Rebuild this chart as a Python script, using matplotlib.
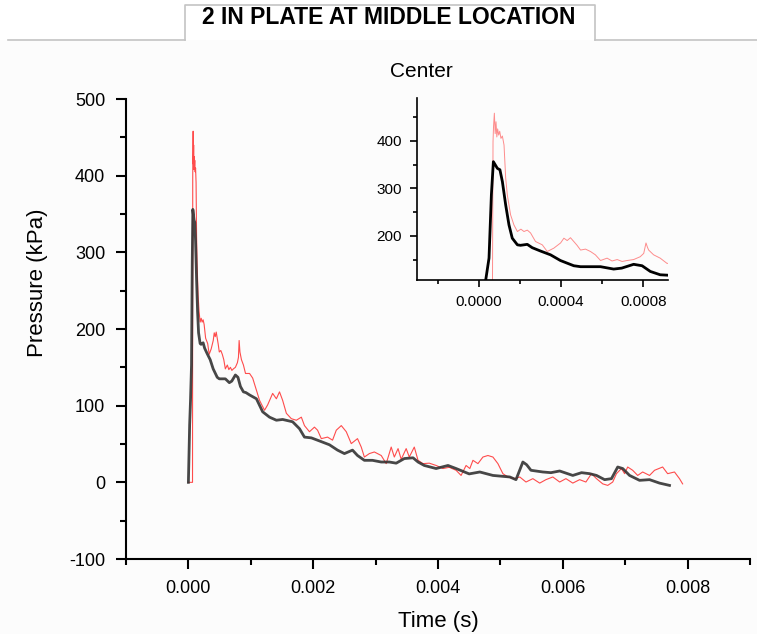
import matplotlib
matplotlib.use("Agg")
import matplotlib.pyplot as plt
from matplotlib.lines import Line2D
from matplotlib.patches import Rectangle
from matplotlib.ticker import MultipleLocator, FixedLocator

plt.rcParams['font.family'] = ['Liberation Sans', 'DejaVu Sans']

# Simulated pressure history (s, kPa)
sim_time = [0.0, 0.00002, 0.000034, 0.00005, 0.0000615, 0.0000712, 0.0000905,
            0.000103, 0.000115, 0.000131, 0.000147, 0.000163, 0.000188, 0.000203,
            0.000236, 0.00026, 0.0003, 0.000349, 0.000397, 0.000462, 0.000495,
            0.000592, 0.000656, 0.000695, 0.000753, 0.000794, 0.000834, 0.000882,
            0.000923, 0.00098, 0.00109, 0.00119, 0.0013, 0.00141, 0.00151, 0.00167,
            0.00178, 0.00186, 0.00197, 0.0021, 0.00226, 0.00239, 0.0025, 0.00263,
            0.00271, 0.00282, 0.00295, 0.00309, 0.00322, 0.00333, 0.00346, 0.0036,
            0.00368, 0.00378, 0.00397, 0.00416, 0.00429, 0.0045, 0.00467, 0.00488,
            0.00515, 0.00525, 0.00536, 0.00542, 0.00549, 0.00568, 0.00581, 0.00595,
            0.00616, 0.0063, 0.00643, 0.00654, 0.00667, 0.00678, 0.00688, 0.00696,
            0.00707, 0.00723, 0.00739, 0.00755, 0.00771]
sim_pressure = [0, 75, 107, 153, 286, 356, 342,
                339, 314, 265, 223, 195, 181, 180,
                182, 175, 168, 160, 148, 137, 135,
                135, 130, 132, 140, 137, 125, 118,
                117, 114, 109, 92, 85, 81, 82, 79,
                70, 59, 58, 54, 49, 42, 37.5, 42,
                35, 28.7, 28.7, 26.5, 26.5, 25, 31, 32,
                26.5, 22, 18, 22, 18, 11, 13.5, 9,
                7, 3.5, 26.5, 23, 15.7, 13.5, 12.6, 14.8,
                9, 12.6, 11.3, 9, 3.5, 4.8, 20, 18,
                9, 2.6, 3.5, -1, -4]

# Measured pressure history (s, kPa)
exp_time = [0.000005, 0.000066, 0.0000695, 0.000072, 0.000076, 0.00008, 0.000084,
            0.000088, 0.000092, 0.000097, 0.000102, 0.000108, 0.000115, 0.000123,
            0.000131, 0.000139, 0.000155, 0.000171, 0.000188, 0.000205, 0.00022,
            0.000236, 0.000252, 0.000276, 0.000309, 0.000333, 0.000365, 0.000398,
            0.000414, 0.00043, 0.000446, 0.000462, 0.000478, 0.000495, 0.000519,
            0.000543, 0.000567, 0.000592, 0.000624, 0.000648, 0.000673, 0.000697,
            0.000721, 0.000753, 0.000785, 0.000802, 0.000813, 0.00082, 0.000826,
            0.00085, 0.000882, 0.000915, 0.00098, 0.00103, 0.00109, 0.00114, 0.00122,
            0.00127, 0.00135, 0.00141, 0.00146, 0.00151, 0.00157, 0.00165, 0.00173,
            0.00181, 0.00186, 0.00194, 0.00202, 0.00207, 0.00213, 0.00223, 0.00231,
            0.00237, 0.00245, 0.00253, 0.00261, 0.00271, 0.00277, 0.00282, 0.0029,
            0.00298, 0.00309, 0.00317, 0.00325, 0.0033, 0.00336, 0.00341, 0.00349,
            0.00354, 0.00362, 0.00368, 0.00376, 0.00386, 0.00397, 0.00408, 0.00418,
            0.00429, 0.00437, 0.00445, 0.00451, 0.00456, 0.00464, 0.00472, 0.0048,
            0.00488, 0.00496, 0.00504, 0.00512, 0.00523, 0.00531, 0.00541, 0.00552,
            0.00563, 0.00573, 0.00584, 0.00595, 0.00605, 0.00616, 0.00627, 0.00637,
            0.00646, 0.00654, 0.00664, 0.00672, 0.0068, 0.00686, 0.00694, 0.00699,
            0.00704, 0.00712, 0.0072, 0.00728, 0.00739, 0.00747, 0.0076, 0.00768,
            0.00779, 0.00787, 0.00792]
exp_pressure = [0, 0, 398, 430, 458, 415, 440,
                408, 425, 412, 420, 405, 410, 391,
                322, 286, 244, 223, 209, 214, 209,
                212, 206, 188, 181, 167, 174, 185,
                195, 190, 196, 188, 180, 170, 172,
                167, 160, 148, 153, 147, 150, 146,
                148, 150, 156, 163, 185, 176, 170,
                160, 153, 142, 142, 136, 120, 107, 94,
                101, 116, 109, 118, 107, 90, 83, 81,
                85, 74, 66, 72, 68, 57, 59, 55,
                68, 74, 66, 50.5, 57, 46, 33, 37.5,
                39.6, 35, 24.4, 46, 33, 44, 30, 44,
                33, 46, 28.7, 24.4, 25, 22, 18, 19.6,
                15.7, 9, 22, 18, 28.7, 24.4, 33, 35,
                33, 24.4, 11.3, 7, 4.8, 7, 0.4, 4.8,
                -1, 3.5, 7, 0.4, 4.8, -1, 3.5, 0.4,
                11.3, 4.8, -2, -4, 0.4, 11.3, 18, 11.3,
                20, 15.7, 9, 13.5, 9, 15.7, 20, 11.3,
                13.5, 4.8, -2]

main_xticks = [0.000, 0.002, 0.004, 0.006, 0.008]
main_yticks = [-100, 0, 100, 200, 300, 400, 500]
inset_xticks = [0.0000, 0.0004, 0.0008]
inset_yticks = [200, 300, 400]

W, H = 757, 634
fig = plt.figure(figsize=(W / 100, H / 100), dpi=100)
fig.patch.set_facecolor('white')

# header tab and separator
line_y = 1 - 40 / H
fig.patches.append(Rectangle((0, 0), 1, line_y, transform=fig.transFigure,
                             facecolor='#fcfcfc', edgecolor='none', zorder=-5))
box_l, box_r, box_t = 185 / W, 595 / W, 1 - 5 / H
grey = '#c4c4c4'
fig.lines.extend([
    Line2D([8 / W, box_l], [line_y, line_y], transform=fig.transFigure, color=grey, lw=1.2),
    Line2D([box_r, 1], [line_y, line_y], transform=fig.transFigure, color=grey, lw=1.2),
    Line2D([box_l, box_l, box_r, box_r], [line_y, box_t, box_t, line_y],
           transform=fig.transFigure, color=grey, lw=1.2),
])
fig.text(389 / W, 1 - 18 / H, '2 IN PLATE AT MIDDLE LOCATION', ha='center', va='center',
         fontsize=16.5, fontweight='bold',
         family=['Liberation Sans Narrow', 'Liberation Sans', 'DejaVu Sans'])


def style_axes(ax, lw):
    for side in ('top', 'right'):
        ax.spines[side].set_visible(False)
    for side in ('left', 'bottom'):
        ax.spines[side].set_linewidth(lw)
    ax.set_facecolor('none')
    ax.tick_params(which='both', direction='out', width=lw)


# main axes
ax = fig.add_axes([126 / W, 75 / H, 624 / W, 460 / H])
style_axes(ax, 1.5)
ax.plot(exp_time, exp_pressure, color='#ff2020', lw=0.8, alpha=0.8)
ax.plot(sim_time, sim_pressure, color='#333333', lw=2.0, alpha=0.9)
ax.set_xlim(-0.001, 0.009)
ax.set_ylim(-100, 500)
ax.xaxis.set_major_locator(FixedLocator(main_xticks))
ax.xaxis.set_minor_locator(MultipleLocator(0.001))
ax.yaxis.set_major_locator(FixedLocator(main_yticks))
ax.yaxis.set_minor_locator(MultipleLocator(50))
ax.set_xticklabels([f'{v:.3f}' for v in main_xticks])
ax.set_yticklabels([str(v) for v in main_yticks])
ax.tick_params(which='major', length=7, labelsize=13, pad=8)
ax.tick_params(which='minor', length=4)
ax.set_xlabel('Time (s)', fontsize=16, labelpad=10)
ax.set_ylabel('Pressure (kPa)', fontsize=16)
ax.yaxis.set_label_coords(-0.125, 0.6)
ax.set_title('Center', fontsize=15, x=0.474, pad=16)

# inset zoom on the initial peak
ins = fig.add_axes([417 / W, 1 - 280 / H, 251 / W, 182 / H])
style_axes(ins, 1.2)
ins.plot(exp_time, exp_pressure, color='#ff3030', lw=0.7, alpha=0.55)
ins.plot(sim_time, sim_pressure, color='black', lw=2.0)
ins.set_xlim(-0.0003, 0.00092)
ins.set_ylim(107, 490)
ins.xaxis.set_major_locator(FixedLocator(inset_xticks))
ins.xaxis.set_minor_locator(MultipleLocator(0.0002))
ins.yaxis.set_major_locator(FixedLocator(inset_yticks))
ins.yaxis.set_minor_locator(MultipleLocator(50))
ins.set_xticklabels([f'{v:.4f}' for v in inset_xticks])
ins.set_yticklabels([str(v) for v in inset_yticks])
ins.tick_params(which='major', length=5, labelsize=11, pad=6)
ins.tick_params(which='minor', length=3)

fig.savefig('out.png', dpi=100)
